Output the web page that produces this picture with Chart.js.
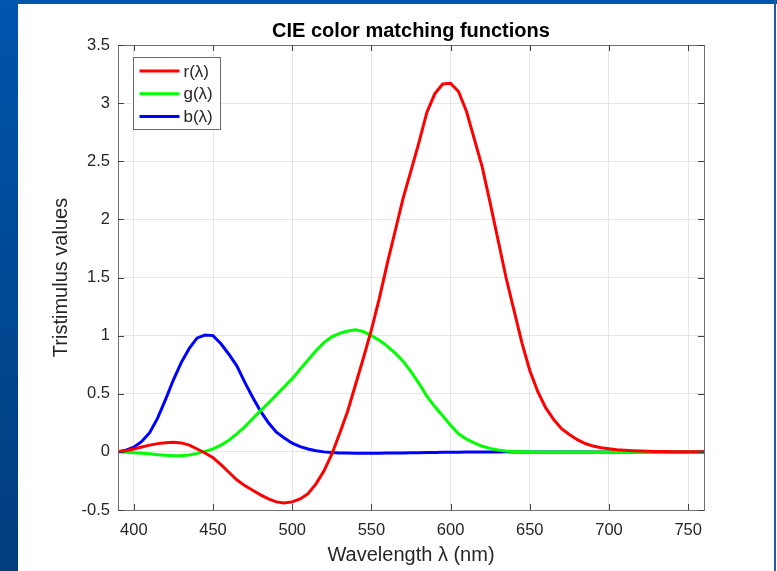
<!DOCTYPE html>
<html>
<head>
<meta charset="utf-8">
<script src="https://cdn.jsdelivr.net/npm/chart.js@4.4.1/dist/chart.umd.min.js"></script>
<style>
  html, body { margin: 0; padding: 0; background: #ffffff; }
  #wrap { position: relative; width: 777px; height: 571px; overflow: hidden; }
  #chart-cmf { position: absolute; left: 0; top: 0; }
  .frame-left { position: absolute; left: 0; top: 0; width: 18px; height: 571px; background: linear-gradient(#0055ad, #003d7c); }
  .frame-top { position: absolute; left: 0; top: 0; width: 777px; height: 4px; background: #0055ad; }
  .frame-right { position: absolute; left: 774px; top: 0; width: 2px; height: 571px; background: #1d5ca6; }
</style>
</head>
<body>
<div id="wrap">
  <canvas id="chart-cmf" width="777" height="571"></canvas>
  <div class="frame-left"></div>
  <div class="frame-top"></div>
  <div class="frame-right"></div>
</div>
<script>
// wavelengths in nm
var wavelengths = [
  390, 395, 400, 405, 410, 415, 420, 425, 430, 435, 440, 445, 450, 455, 460, 465, 470, 475, 480, 485,
  490, 495, 500, 505, 510, 515, 520, 525, 530, 535, 540, 545, 550, 555, 560, 565, 570, 575, 580, 585,
  590, 595, 600, 605, 610, 615, 620, 625, 630, 635, 640, 645, 650, 655, 660, 665, 670, 675, 680, 685,
  690, 695, 700, 705, 710, 715, 720, 725, 730, 735, 740, 745, 750, 755, 760,
];

var rValues = [
  0, 0.01, 0.025, 0.042, 0.058, 0.071, 0.079, 0.082, 0.077, 0.058, 0.025, -0.01, -0.05, -0.11, -0.175, -0.24, -0.29, -0.33, -0.37, -0.405,
  -0.43, -0.44, -0.43, -0.405, -0.36, -0.275, -0.165, -0.02, 0.16, 0.35, 0.58, 0.81, 1.05, 1.32, 1.62, 1.9, 2.18, 2.42, 2.66, 2.92,
  3.08, 3.165, 3.17, 3.1, 2.93, 2.69, 2.45, 2.14, 1.82, 1.5, 1.22, 0.94, 0.7, 0.52, 0.38, 0.28, 0.2, 0.15, 0.105, 0.072,
  0.05, 0.036, 0.026, 0.019, 0.014, 0.01, 0.007, 0.005, 0.004, 0.003, 0.002, 0.002, 0.001, 0.001, 0.001,
];

var gValues = [
  0, -0.004, -0.008, -0.012, -0.017, -0.024, -0.03, -0.034, -0.033, -0.026, -0.013, 0.004, 0.025, 0.058, 0.1, 0.155, 0.215, 0.285, 0.355, 0.42,
  0.49, 0.56, 0.63, 0.71, 0.79, 0.87, 0.94, 0.99, 1.02, 1.04, 1.05, 1.035, 1.0, 0.96, 0.91, 0.85, 0.78, 0.69, 0.59, 0.48,
  0.39, 0.31, 0.23, 0.155, 0.11, 0.078, 0.048, 0.03, 0.016, 0.008, 0.004, 0.002, 0.001, 0, 0, 0, 0, 0, 0, 0,
  0, 0, 0, 0, 0, 0, 0, 0, 0, 0, 0, 0, 0, 0, 0,
];

var bValues = [
  0, 0.015, 0.04, 0.09, 0.165, 0.29, 0.45, 0.62, 0.77, 0.89, 0.98, 1.005, 1.0, 0.93, 0.84, 0.74, 0.6, 0.47, 0.35, 0.25,
  0.17, 0.12, 0.075, 0.045, 0.025, 0.01, 0, -0.006, -0.009, -0.01, -0.011, -0.011, -0.011, -0.011, -0.01, -0.01, -0.009, -0.008, -0.007, -0.006,
  -0.005, -0.004, -0.003, -0.003, -0.002, -0.002, -0.001, -0.001, -0.001, 0, 0, 0, 0, 0, 0, 0, 0, 0, 0, 0,
  0, 0, 0, 0, 0, 0, 0, 0, 0, 0, 0, 0, 0, 0, 0,
];

var seriesLabels = ["r(\u03bb)", "g(\u03bb)", "b(\u03bb)"];
var seriesColors = ["#ff0000", "#00ff00", "#0000ff"];

var xTicks = [400, 450, 500, 550, 600, 650, 700, 750];
var yTicks = [-0.5, 0, 0.5, 1, 1.5, 2, 2.5, 3, 3.5];

var fontFamily = "'Liberation Sans', Arial, Helvetica, sans-serif";
var textColor = "#262626";

function toPoints(values) {
  return wavelengths.map(function (w, i) {
    return { x: w, y: values[i] };
  });
}

// box, inward tick marks and legend, drawn the matlab way
var axesBoxPlugin = {
  id: "axesBox",
  afterDatasetsDraw: function (chart) {
    var c = chart.ctx;
    var a = chart.chartArea;
    var xs = chart.scales.x;
    var ys = chart.scales.y;
    c.save();
    c.strokeStyle = "#707070";
    c.lineWidth = 1;
    c.strokeRect(Math.round(a.left) + 0.5, Math.round(a.top) + 0.5, Math.round(a.right - a.left), Math.round(a.bottom - a.top));
    c.strokeStyle = "#404040";
    c.beginPath();
    xTicks.forEach(function (t) {
      var px = Math.round(xs.getPixelForValue(t)) + 0.5;
      c.moveTo(px, a.bottom);
      c.lineTo(px, a.bottom - 6);
      c.moveTo(px, a.top);
      c.lineTo(px, a.top + 6);
    });
    yTicks.forEach(function (t) {
      var py = Math.round(ys.getPixelForValue(t)) + 0.5;
      c.moveTo(a.left, py);
      c.lineTo(a.left + 6, py);
      c.moveTo(a.right, py);
      c.lineTo(a.right - 6, py);
    });
    c.stroke();

    // legend
    var lx = Math.round(a.left) + 15.5;
    var ly = Math.round(a.top) + 12.5;
    c.fillStyle = "#ffffff";
    c.fillRect(lx, ly, 87, 72);
    c.strokeStyle = "#6a6a6a";
    c.strokeRect(lx, ly, 87, 72);
    c.font = "17px " + fontFamily;
    c.textBaseline = "middle";
    c.textAlign = "left";
    chart.data.datasets.forEach(function (ds, i) {
      var yy = ly + 13.5 + i * 22.7;
      c.strokeStyle = ds.borderColor;
      c.lineWidth = 3;
      c.beginPath();
      c.moveTo(lx + 6, yy);
      c.lineTo(lx + 46, yy);
      c.stroke();
      c.fillStyle = textColor;
      c.fillText(ds.label, lx + 50, yy + 1);
    });
    c.restore();
  },
};

var ctx = document.getElementById("chart-cmf").getContext("2d");

new Chart(ctx, {
  type: "line",
  data: {
    datasets: seriesLabels.map(function (label, i) {
      return {
        label: label,
        data: toPoints([rValues, gValues, bValues][i]),
        borderColor: seriesColors[i],
        backgroundColor: seriesColors[i],
        borderWidth: 3,
        pointRadius: 0,
        tension: 0,
        fill: false,
      };
    }),
  },
  options: {
    responsive: false,
    animation: false,
    events: [],
    layout: {
      padding: { left: 0, top: 0, right: 73, bottom: 0 },
    },
    plugins: {
      legend: { display: false },
      tooltip: { enabled: false },
      title: {
        display: true,
        text: "CIE color matching functions",
        fullSize: false,
        color: "#000000",
        padding: { top: 19, bottom: 2 },
        font: { family: fontFamily, size: 20, weight: "bold", lineHeight: 1.2 },
      },
    },
    scales: {
      x: {
        type: "linear",
        min: 390,
        max: 760,
        afterFit: function (scale) {
          scale.height = 61;
        },
        afterBuildTicks: function (scale) {
          scale.ticks = xTicks.map(function (v) {
            return { value: v };
          });
        },
        grid: {
          color: "#e6e6e6",
          drawTicks: false,
        },
        border: { display: false },
        ticks: {
          color: textColor,
          padding: 11,
          maxRotation: 0,
          font: { family: fontFamily, size: 16.5 },
        },
        title: {
          display: true,
          text: "Wavelength \u03bb (nm)",
          color: textColor,
          padding: { top: 0, bottom: 4 },
          font: { family: fontFamily, size: 20 },
        },
      },
      y: {
        type: "linear",
        min: -0.5,
        max: 3.5,
        afterFit: function (scale) {
          scale.width = 118;
        },
        afterBuildTicks: function (scale) {
          scale.ticks = yTicks.map(function (v) {
            return { value: v };
          });
        },
        grid: {
          color: "#e6e6e6",
          drawTicks: false,
        },
        border: { display: false },
        ticks: {
          color: textColor,
          padding: 8,
          font: { family: fontFamily, size: 16.5 },
          callback: function (v) {
            return String(v);
          },
        },
        title: {
          display: true,
          text: "Tristimulus values",
          color: textColor,
          padding: { top: 49, bottom: 0 },
          font: { family: fontFamily, size: 20 },
        },
      },
    },
  },
  plugins: [axesBoxPlugin],
});
</script>
</body>
</html>
